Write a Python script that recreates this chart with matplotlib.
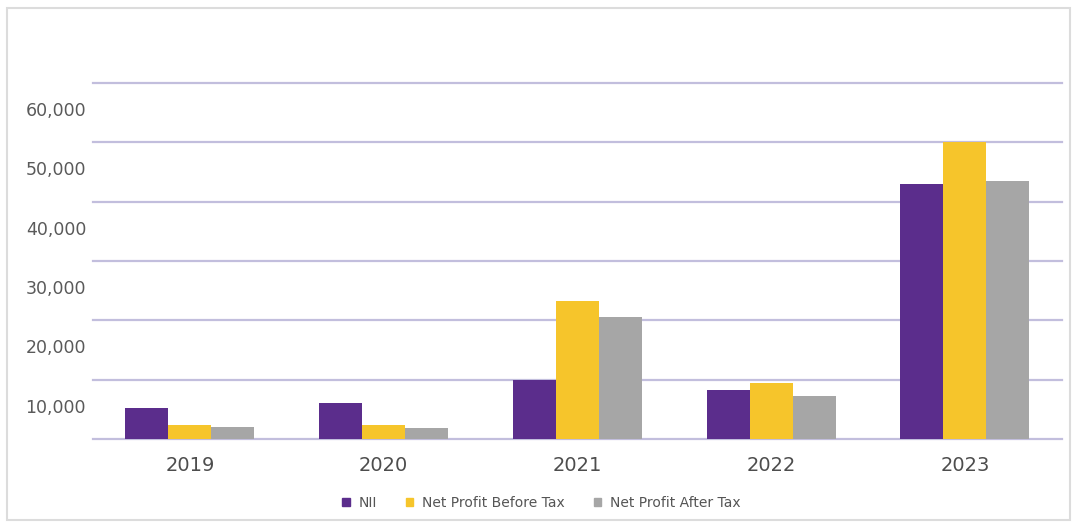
import numpy as np
import matplotlib
matplotlib.use("Agg")
import matplotlib.pyplot as plt
from matplotlib.patches import Rectangle, Patch
from matplotlib.transforms import ScaledTranslation

years = ["2019", "2020", "2021", "2022", "2023"]
nii = [5300, 6000, 10000, 8300, 43000]
npbt = [2300, 2400, 23200, 9500, 50100]
npat = [2100, 1800, 20500, 7300, 43400]
y_ticks = [0, 10000, 20000, 30000, 40000, 50000, 60000]
y_labels = ["", "10,000", "20,000", "30,000", "40,000", "50,000", "60,000"]

series = [
    ("NII", nii, "#5b2d8c"),
    ("Net Profit Before Tax", npbt, "#f6c52b"),
    ("Net Profit After Tax", npat, "#a6a6a6"),
]

plt.rcParams["font.family"] = ["DejaVu Sans"]

fig = plt.figure(figsize=(10.78, 5.28), dpi=100)
ax = fig.add_axes([0.0863, 0.1686, 0.8987, 0.6742])

x = np.arange(len(years))
w = 0.222
for i, (name, vals, col) in enumerate(series):
    ax.bar(x + (i - 1) * w, vals, w, color=col, zorder=3, label=name)

ax.set_xlim(-0.5, len(years) - 0.5)
ax.set_ylim(0, 60000)
ax.set_yticks(y_ticks)
ax.set_yticklabels(y_labels)
ax.set_xticks(x)
ax.set_xticklabels(years)
ax.grid(axis="y", color="#c2bedd", lw=1.6, zorder=1)
ax.grid(axis="x", visible=False)
for gl in ax.get_ygridlines():
    gl.set_clip_on(False)
for s in ax.spines.values():
    s.set_visible(False)
ax.tick_params(axis="both", length=0)
ax.tick_params(axis="y", pad=5, labelsize=12.5, labelcolor="#5a5a5a")
ax.tick_params(axis="x", pad=12, labelsize=14, labelcolor="#4d4d4d")

# value labels sit a little under their grid lines
shift = ScaledTranslation(0, -26 / 100, fig.dpi_scale_trans)
for lab in ax.get_yticklabels():
    lab.set_transform(lab.get_transform() + shift)

handles = [Patch(color=c, label=n) for n, _, c in series]
fig.legend(handles=handles, loc="center", bbox_to_anchor=(0.502, 0.047),
           ncol=3, frameon=False, fontsize=10, labelcolor="#555555",
           handlelength=0.55, handleheight=0.55, handletextpad=0.6,
           columnspacing=2.1)

# thin frame around the whole panel
fig.add_artist(Rectangle((7 / 1078, 8 / 528), 1063 / 1078, 512 / 528,
                         transform=fig.transFigure, fill=False,
                         edgecolor="#dcdcdc", lw=1.5))

fig.savefig("out.png", dpi=100)
